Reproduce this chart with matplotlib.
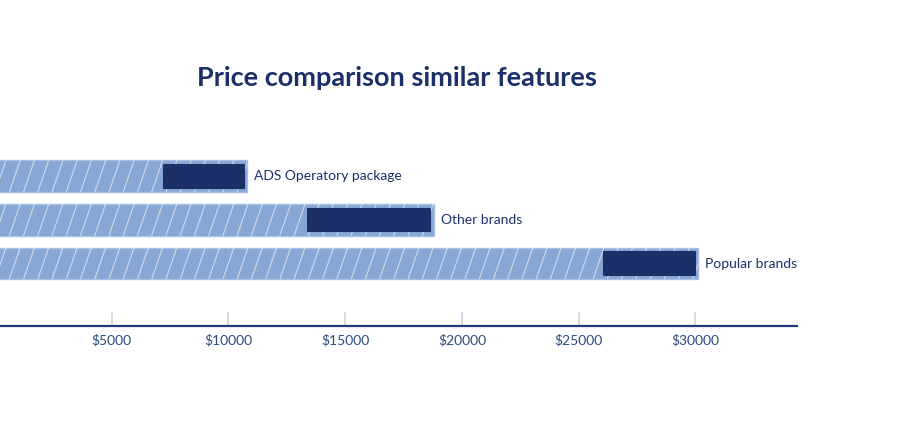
import numpy as np
import matplotlib.pyplot as plt
from matplotlib.collections import LineCollection

# data, bottom to top
products = ['Popular brands', 'Other brands', 'ADS Operatory package']
full_price = [30100, 18800, 10800]     # light bar ends
range_low = [26100, 13400, 7250]       # dark bar start
range_high = [30000, 18650, 10650]     # dark bar end
ticks = [5000, 10000, 15000, 20000, 25000, 30000]
tick_labels = ['$5000', '$10000', '$15000', '$20000', '$25000', '$30000']

NAVY = '#1b3069'
LIGHT = '#87a7d5'
BAR_H = 0.73

fig = plt.figure(figsize=(9.06, 4.28), dpi=100)
ax = fig.add_axes([0, 0.2383, 0.8797, 0.4112])

y = np.arange(len(products))
bars = ax.barh(y, full_price, height=BAR_H, color=LIGHT, edgecolor='#a9c0e2',
               linewidth=1)

# steep white stripes inside the light bars
step, lean = 610, 470
for rect, yi, end in zip(bars, y, full_price):
    xs = np.arange(-step, end, step)
    segs = [[(x, yi - BAR_H / 2), (x + lean, yi + BAR_H / 2)] for x in xs]
    lc = LineCollection(segs, colors='white', linewidths=0.8, alpha=0.6)
    ax.add_collection(lc)
    lc.set_clip_path(rect)

lo = np.array(range_low)
hi = np.array(range_high)
ax.barh(y, hi - lo, left=lo, height=0.52, color=NAVY, edgecolor=NAVY,
        linewidth=1.5, joinstyle='round', zorder=3)

for yi, end, name in zip(y, full_price, products):
    ax.annotate(name, (end, yi), xytext=(5, 0), textcoords='offset points',
                va='center', ha='left', fontsize=10, color=NAVY, family='Lato')

ax.set_xlim(215, 34357)
ax.set_ylim(-1.433, 2.603)
ax.set_yticks([])
ax.set_xticks(ticks)
ax.set_xticklabels(tick_labels, family='Lato', fontsize=10, color='#2c4a80')
ax.tick_params(axis='x', direction='in', length=10, width=1.2, color='#ccd4e4', pad=6)
for s in ['top', 'right', 'left']:
    ax.spines[s].set_visible(False)
ax.spines['bottom'].set_color('#1e3a78')
ax.spines['bottom'].set_linewidth(1.6)
ax.patch.set_alpha(0)

fig.text(0.438, 0.818, 'Price comparison similar features', ha='center', va='center',
         fontsize=19.5, fontweight='bold', color=NAVY, family='Lato')

fig.savefig('out.png', dpi=100)
